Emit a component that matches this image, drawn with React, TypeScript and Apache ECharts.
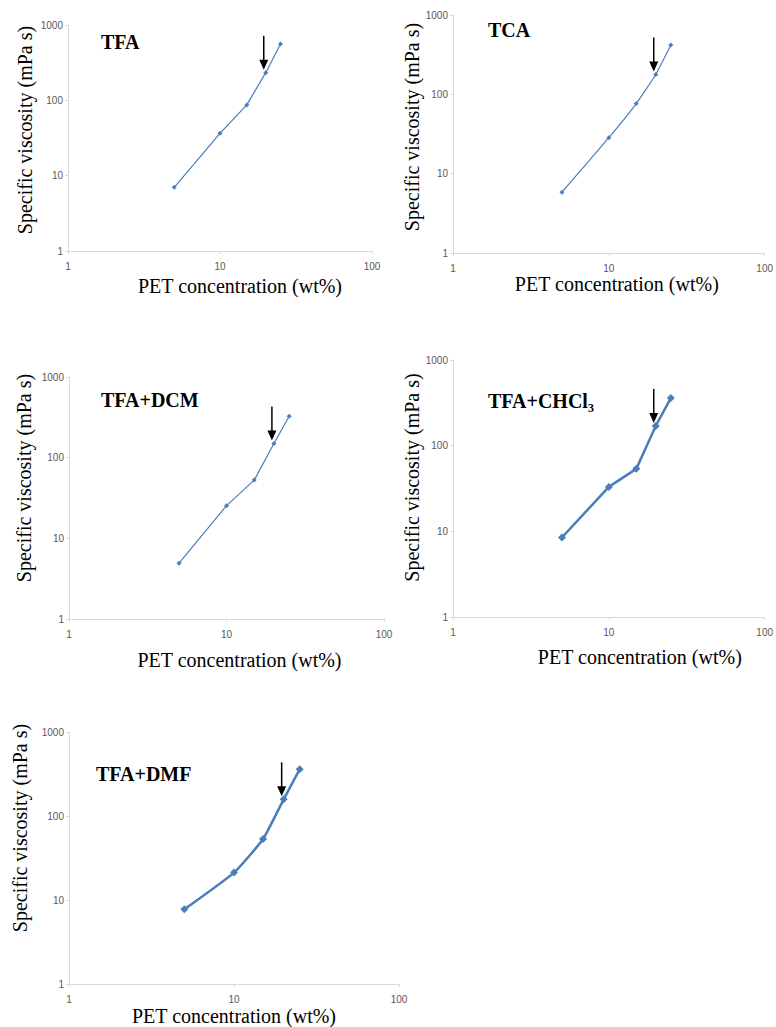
import React, { useEffect, useRef } from "react";
import * as echarts from "echarts";

// PET concentration (wt%)
const concentration = [5, 10, 15, 20, 25];
// Specific viscosity (mPa s) per solvent system
const tfa = [7, 36.5, 87, 233, 561];
const tca = [5.85, 28.4, 76.5, 178, 418];
const tfaDcm = [4.92, 25.4, 52.7, 150, 326];
const tfaChcl3 = [8.47, 33, 53.6, 170, 359];
const tfaDmf = [7.74, 21.2, 53.2, 158, 359];
// Concentration marked by the arrow
const arrowConc = 20;

const panelTitles = ["TFA", "TCA", "TFA+DCM", "TFA+CHCl₃", "TFA+DMF"];
const panelValues = [tfa, tca, tfaDcm, tfaChcl3, tfaDmf];

const xName = "PET concentration (wt%)";
const yName = "Specific viscosity (mPa s)";

// layout per panel (page pixels)
const layouts = [
  { left: 68, top: 25, width: 304, height: 226, lw: 1.2, ss: 5, smooth: false, tx: 101, ty: 43, xOff: 20, xGap: 35, yOff: 8, yGap: 43 },
  { left: 453, top: 15, width: 318, height: 238, lw: 1.2, ss: 5, smooth: 0.15, tx: 488, ty: 31, xOff: 8, xGap: 30, yOff: 7, yGap: 40 },
  { left: 69, top: 377, width: 315, height: 242, lw: 1.2, ss: 5, smooth: false, tx: 101, ty: 401, xOff: 13, xGap: 41, yOff: 20, yGap: 45 },
  { left: 453, top: 360, width: 315, height: 257, lw: 2.5, ss: 8, smooth: false, tx: 488, ty: 402, xOff: 31, xGap: 40, yOff: 11, yGap: 40 },
  { left: 69, top: 732, width: 330, height: 254, lw: 2.5, ss: 8, smooth: 0.15, tx: 96, ty: 775, xOff: 0, xGap: 32, yOff: 30, yGap: 49 },
];

const LINE = "#4a7ebb";
const AXIS = "#d9d9d9";
const LABEL = "#595959";
const SERIF = "Liberation Serif";
const SANS = "Liberation Sans";

export default function App() {
  const ref = useRef<HTMLDivElement>(null);
  useEffect(() => {
    if (!ref.current) return;
    const chart = echarts.init(ref.current, undefined, { renderer: "svg" });
    const grid: any[] = [];
    const xAxis: any[] = [];
    const yAxis: any[] = [];
    const series: any[] = [];
    const graphic: any[] = [];
    layouts.forEach((L, i) => {
      grid.push({ left: L.left, top: L.top, width: L.width, height: L.height, containLabel: false });
      const common = {
        type: "log",
        logBase: 10,
        gridIndex: i,
        axisLine: { show: true, lineStyle: { color: AXIS, width: 1 } },
        axisTick: { show: true, length: 3, lineStyle: { color: AXIS } },
        minorTick: { show: false },
        splitLine: { show: false },
        axisLabel: { color: LABEL, fontSize: 10, fontFamily: SANS, formatter: (v: number) => String(Math.round(v)) },
        nameLocation: "middle",
      };
      xAxis.push({
        ...common,
        min: 1,
        max: 100,
        axisLabel: { ...common.axisLabel, margin: 10 },
        name: xName,
        nameGap: L.xGap - 10,
        nameTextStyle: { fontFamily: SERIF, fontStyle: "normal", fontWeight: "normal", fontSize: 20, color: "#000", padding: [0, 0, 0, L.xOff * 2] },
      });
      yAxis.push({
        ...common,
        min: 1,
        max: 1000,
        axisLabel: { ...common.axisLabel, margin: 5 },
        name: yName,
        nameGap: L.yGap - 10,
        nameTextStyle: { fontFamily: SERIF, fontStyle: "normal", fontWeight: "normal", fontSize: 20, color: "#000", padding: [0, 0, 0, L.yOff * 2] },
      });
      const vals = panelValues[i];
      series.push({
        type: "line",
        xAxisIndex: i,
        yAxisIndex: i,
        data: concentration.map((c, k) => [c, vals[k]]),
        symbol: "diamond",
        symbolSize: L.ss,
        showSymbol: true,
        smooth: L.smooth,
        lineStyle: { color: LINE, width: L.lw },
        itemStyle: { color: LINE },
      });
      const k = concentration.indexOf(arrowConc);
      series.push({
        type: "custom",
        xAxisIndex: i,
        yAxisIndex: i,
        data: [[arrowConc, vals[k]]],
        renderItem: (params: any, api: any) => {
          const p = api.coord([api.value(0), api.value(1)]);
          const x = p[0] - 2;
          const tip = p[1] - 3;
          const top = p[1] - 37;
          return {
            type: "group",
            children: [
              { type: "line", shape: { x1: x, y1: top, x2: x, y2: tip - 8 }, style: { stroke: "#000", lineWidth: 1.5 } },
              { type: "polygon", shape: { points: [[x - 4.5, tip - 10], [x + 4.5, tip - 10], [x, tip]] }, style: { fill: "#000" } },
            ],
          };
        },
      });
      graphic.push({
        type: "text",
        left: L.tx,
        top: L.ty - 11,
        style: { text: panelTitles[i], fontFamily: SERIF, fontWeight: "bold", fontSize: 20, fill: "#000" },
      });
    });
    chart.setOption({
      animation: false,
      backgroundColor: "#fff",
      grid,
      xAxis,
      yAxis,
      series,
      graphic,
    });
    return () => chart.dispose();
  }, []);
  return (
    <div
      ref={ref}
      style={{ position: "absolute", left: 0, top: 0, width: 776, height: 1027, background: "#fff" }}
    />
  );
}
